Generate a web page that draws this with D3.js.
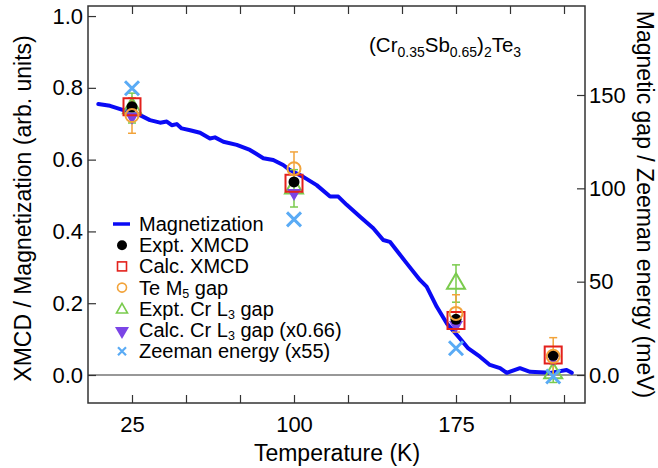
<!DOCTYPE html>
<html>
<head>
<meta charset="utf-8">
<script src="https://cdn.jsdelivr.net/npm/d3@7"></script>
<style>
  html, body { margin: 0; padding: 0; background: #fff; }
  svg { display: block; font-family: "Liberation Sans", Arial, Helvetica, sans-serif; }
</style>
</head>
<body>
<svg id="chart" width="658" height="468"></svg>
<script>
// Magnetization curve M(T), arb. units
const magT = [9.4, 14.8, 21, 28.7, 33.3, 38, 41.1, 43.4, 45.7, 48, 51.9, 56.5, 61.1, 63.4, 67.3, 73.5, 79.6, 85.8, 90.4, 95, 98.1, 104.3, 110.5, 116.7, 120.5, 124.4, 130.6, 136.7, 141.3, 144.4, 152.2, 158.3, 161.4, 166.1, 170.7, 176.1, 180.7, 186.1, 190.7, 195.4, 198.5, 204.6, 209.3, 218.5, 226.2, 228.6];
const magV = [0.755, 0.750, 0.738, 0.724, 0.710, 0.703, 0.706, 0.696, 0.699, 0.687, 0.682, 0.675, 0.659, 0.662, 0.650, 0.641, 0.627, 0.604, 0.599, 0.585, 0.571, 0.552, 0.529, 0.497, 0.497, 0.474, 0.441, 0.409, 0.376, 0.371, 0.311, 0.265, 0.246, 0.190, 0.144, 0.107, 0.074, 0.051, 0.028, 0.019, 0.006, 0.019, 0.009, 0.006, 0.014, 0.006];

// Measurement temperatures (K)
const temps = [25, 100, 175, 220];
// Left axis (arb. units)
const exptXMCD = [0.747, 0.538, 0.155, 0.055];
const calcXMCD = [0.747, 0.534, 0.152, 0.056];
// Right axis (meV)
const teM5Gap = [139, 110.5, 33, 10];
const teM5Err = [9.5, 9, 10, 10];
const exptCrGap = [143, 100, 49, 1];
const exptCrErr = [8, 10, 10, 5];
const calcCrGap = [138.4, 97.5, 26.8, 9.1];
const zeeman = [153.6, 83.4, 14.3, -0.8];

// Axis ticks
const xTicks = [25, 50, 75, 100, 125, 150, 175, 200, 225];
const xTickLabels = ["25", "", "", "100", "", "", "175", "", ""];
const yLeftTicks = [0, 0.2, 0.4, 0.6, 0.8, 1.0];
const yRightTicks = [0, 50, 100, 150];
const yRightTickLabels = ["0.0", "50", "100", "150"];

const C = {
  line: "#0a0af5",
  black: "#000000",
  red: "#e3211c",
  orange: "#f2a33a",
  green: "#7acb4d",
  purple: "#7b45e6",
  lightblue: "#5aabf5",
  axis: "#333333"
};

const svg = d3.select("#chart");
const L = 88, R = 585, T = 6, B = 403;

const x = d3.scaleLinear().domain([4.63, 234.72]).range([L, R]);
const yL = d3.scaleLinear().domain([-0.078, 1.028]).range([B, T]);
const yR = d3.scaleLinear().domain([-15, 197.68]).range([B, T]);

const tickLen = 8;

// Axes (ticks point inward)
const gx = svg.append("g").attr("transform", `translate(0,${B})`)
  .call(d3.axisBottom(x).tickValues(xTicks).tickSizeInner(-tickLen).tickSizeOuter(0)
    .tickPadding(tickLen + 12).tickFormat((d, i) => xTickLabels[i]));
const gxTop = svg.append("g").attr("transform", `translate(0,${T})`)
  .call(d3.axisTop(x).tickValues(xTicks).tickSizeInner(-tickLen).tickSizeOuter(0).tickFormat(""));
const gyL = svg.append("g").attr("transform", `translate(${L},0)`)
  .call(d3.axisLeft(yL).tickValues(yLeftTicks).tickSizeInner(-tickLen).tickSizeOuter(0)
    .tickPadding(5).tickFormat(d3.format(".1f")));
const gyR = svg.append("g").attr("transform", `translate(${R},0)`)
  .call(d3.axisRight(yR).tickValues(yRightTicks).tickSizeInner(-tickLen).tickSizeOuter(0)
    .tickPadding(4).tickFormat((d, i) => yRightTickLabels[i]));

[gx, gxTop, gyL, gyR].forEach(g => {
  g.select(".domain").remove();
  g.selectAll(".tick line").attr("stroke", C.axis).attr("stroke-width", 1.2);
  g.selectAll(".tick text").attr("fill", "#000").style("font-size", "22px")
    .style("font-family", '"Liberation Sans", Arial, sans-serif');
});
gx.selectAll(".tick text").attr("dy", null).attr("y", 29);

// Frame
svg.append("rect").attr("x", L).attr("y", T).attr("width", R - L).attr("height", B - T)
  .attr("fill", "none").attr("stroke", C.axis).attr("stroke-width", 1.5);
// Zero line
svg.append("line").attr("x1", L).attr("x2", R).attr("y1", yL(0)).attr("y2", yL(0))
  .attr("stroke", C.axis).attr("stroke-width", 1.2);

// Axis titles
svg.append("text").attr("transform", `translate(23,${(T + B) / 2 + 4}) rotate(-90)`)
  .attr("text-anchor", "middle").attr("dominant-baseline", "central")
  .style("font-size", "23px").text("XMCD / Magnetization (arb. units)");
svg.append("text").attr("transform", `translate(645,${(T + B) / 2}) rotate(90)`)
  .attr("text-anchor", "middle").attr("dominant-baseline", "central")
  .style("font-size", "23px").text("Magnetic gap / Zeeman energy (meV)");
svg.append("text").attr("x", 337).attr("y", 461).attr("text-anchor", "middle")
  .style("font-size", "23px").text("Temperature (K)");

// Compound label
const title = svg.append("text").attr("x", 369).attr("y", 52).style("font-size", "20.5px");
const sub = (t, s) => t.append("tspan").attr("dy", 5).style("font-size", "14px").text(s);
const up = (t, s) => t.append("tspan").attr("dy", -5).text(s);
title.append("tspan").text("(Cr");
sub(title, "0.35"); up(title, "Sb");
sub(title, "0.65"); up(title, ")");
sub(title, "2"); up(title, "Te");
sub(title, "3");

// Magnetization curve
const magData = magT.map((t, i) => [t, magV[i]]);
svg.append("path").datum(magData)
  .attr("d", d3.line().x(d => x(d[0])).y(d => yL(d[1])))
  .attr("fill", "none").attr("stroke", C.line).attr("stroke-width", 4)
  .attr("stroke-linejoin", "round").attr("stroke-linecap", "round");

// Error bars
function errorBars(vals, errs, scale, color) {
  const g = svg.append("g").attr("stroke", color).attr("stroke-width", 1.5).attr("fill", "none");
  temps.forEach((t, i) => {
    const cx = x(t), y1 = scale(vals[i] - errs[i]), y2 = scale(vals[i] + errs[i]);
    g.append("line").attr("x1", cx).attr("x2", cx).attr("y1", y1).attr("y2", y2);
    g.append("line").attr("x1", cx - 4).attr("x2", cx + 4).attr("y1", y1).attr("y2", y1);
    g.append("line").attr("x1", cx - 4).attr("x2", cx + 4).attr("y1", y2).attr("y2", y2);
  });
}
errorBars(exptCrGap, exptCrErr, yR, C.green);
errorBars(teM5Gap, teM5Err, yR, C.orange);

// Marker shapes
const sym = (type, size) => d3.symbol().type(type).size(size)();
const triDown = s => {
  const h = s * Math.sqrt(3) / 2;
  return `M${-s / 2},${-h / 3}L${s / 2},${-h / 3}L0,${2 * h / 3}Z`;
};
const triUp = s => {
  const h = s * Math.sqrt(3) / 2;
  return `M${-s / 2},${h / 3}L${s / 2},${h / 3}L0,${-2 * h / 3}Z`;
};

function markers(vals, scale, pathStr, fill, stroke, sw) {
  svg.append("g").selectAll("path").data(vals).join("path")
    .attr("transform", (d, i) => `translate(${x(temps[i])},${scale(d)})`)
    .attr("d", pathStr)
    .attr("fill", fill).attr("stroke", stroke).attr("stroke-width", sw);
}

markers(exptCrGap, yR, triUp(18), "none", C.green, 2);
markers(calcCrGap, yR, triDown(14), C.purple, "none", 0);
markers(calcXMCD, yL, "M-8.5,-8.5H8.5V8.5H-8.5Z", "none", C.red, 2);
markers(exptXMCD, yL, sym(d3.symbolCircle, Math.PI * 5.5 * 5.5), C.black, "none", 0);
markers(teM5Gap, yR, sym(d3.symbolCircle, Math.PI * 6.5 * 6.5), "none", C.orange, 2);
markers(zeeman, yR, "M-7,-7L7,7M-7,7L7,-7", "none", C.lightblue, 3);

// Legend
const legendItems = [
  { kind: "line", parts: [["Magnetization"]] },
  { kind: "dot", parts: [["Expt. XMCD"]] },
  { kind: "square", parts: [["Calc. XMCD"]] },
  { kind: "circle", parts: [["Te M"], ["5", "sub"], [" gap"]] },
  { kind: "triUp", parts: [["Expt. Cr L"], ["3", "sub"], [" gap"]] },
  { kind: "triDown", parts: [["Calc. Cr L"], ["3", "sub"], [" gap (x0.66)"]] },
  { kind: "x", parts: [["Zeeman energy (x55)"]] }
];
const lg = svg.append("g");
legendItems.forEach((item, i) => {
  const cy = 224 + i * 21.2, sx = 122;
  const g = lg.append("g");
  if (item.kind === "line") {
    g.append("line").attr("x1", sx - 9).attr("x2", sx + 8).attr("y1", cy).attr("y2", cy)
      .attr("stroke", C.line).attr("stroke-width", 3.5);
  } else if (item.kind === "dot") {
    g.append("circle").attr("cx", sx).attr("cy", cy).attr("r", 5).attr("fill", C.black);
  } else if (item.kind === "square") {
    g.append("rect").attr("x", sx - 4.5).attr("y", cy - 4.5).attr("width", 9).attr("height", 9)
      .attr("fill", "none").attr("stroke", C.red).attr("stroke-width", 1.6);
  } else if (item.kind === "circle") {
    g.append("circle").attr("cx", sx).attr("cy", cy).attr("r", 4.5)
      .attr("fill", "none").attr("stroke", C.orange).attr("stroke-width", 1.6);
  } else if (item.kind === "triUp") {
    g.append("path").attr("transform", `translate(${sx},${cy + 1})`).attr("d", triUp(11))
      .attr("fill", "none").attr("stroke", C.green).attr("stroke-width", 1.6);
  } else if (item.kind === "triDown") {
    g.append("path").attr("transform", `translate(${sx},${cy + 1})`).attr("d", triDown(14))
      .attr("fill", C.purple);
  } else if (item.kind === "x") {
    g.append("path").attr("transform", `translate(${sx},${cy})`).attr("d", "M-4,-4L4,4M-4,4L4,-4")
      .attr("stroke", C.lightblue).attr("stroke-width", 2.2);
  }
  const t = g.append("text").attr("x", 139).attr("y", cy + 7).style("font-size", "20px");
  let shifted = false;
  item.parts.forEach(p => {
    const ts = t.append("tspan").text(p[0]);
    if (p[1] === "sub") { ts.attr("dy", 3).style("font-size", "12.5px"); shifted = true; }
    else if (shifted) { ts.attr("dy", -3); shifted = false; }
  });
});
</script>
</body>
</html>
